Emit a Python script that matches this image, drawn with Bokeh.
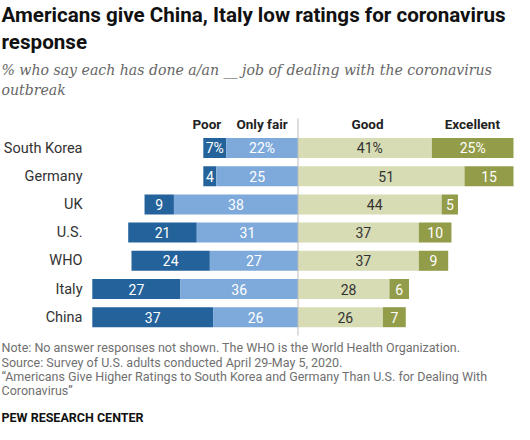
from bokeh.plotting import figure
from bokeh.models import Range1d, Label, ColumnDataSource
from bokeh.core.properties import value
from bokeh.embed import file_html
from bokeh.resources import INLINE

# ---- data ----
categories = ["South Korea", "Germany", "UK", "U.S.", "WHO", "Italy", "China"]
poor = [7, 4, 9, 21, 24, 27, 37]
only_fair = [22, 25, 38, 31, 27, 36, 26]
good = [41, 51, 44, 37, 37, 28, 26]
excellent = [25, 15, 5, 10, 9, 6, 7]
headers = ["Poor", "Only fair", "Good", "Excellent"]

title_lines = ["Americans give China, Italy low ratings for coronavirus", "response"]
subtitle_lines = ["% who say each has done a/an __ job of dealing with the coronavirus", "outbreak"]
note_lines = [
    "Note: No answer responses not shown. The WHO is the World Health Organization.",
    "Source: Survey of U.S. adults conducted April 29-May 5, 2020.",
    "\u201cAmericans Give Higher Ratings to South Korea and Germany Than U.S. for Dealing With",
    "Coronavirus\u201d",
]
credit = "PEW RESEARCH CENTER"

C_POOR = "#23629a"
C_FAIR = "#7eaadb"
C_GOOD = "#d7dcb4"
C_EXC = "#939c48"

W, H = 514, 424
PX_PER_UNIT = 3.265
ROW_PX = 28.2
ZERO_X = 297.5       # canvas px of the divider
FIRST_ROW_Y = 147.5  # canvas px (from top) of first row center

x0 = -ZERO_X / PX_PER_UNIT
x1 = (W - ZERO_X) / PX_PER_UNIT
ytop = -FIRST_ROW_Y / ROW_PX
ybot = ytop + H / ROW_PX

p = figure(width=W, height=H, output_backend="svg", toolbar_location=None,
           x_range=Range1d(x0, x1), y_range=Range1d(ybot, ytop),
           min_border=0, min_border_left=0, min_border_right=0,
           min_border_top=0, min_border_bottom=0)
p.axis.visible = False
p.grid.visible = False
p.outline_line_color = None
p.background_fill_color = "white"
p.border_fill_color = "white"

rows = list(range(len(categories)))
n = len(categories)
src = ColumnDataSource(dict(
    y=rows,
    poor_l=[-(a + b) for a, b in zip(poor, only_fair)],
    poor_r=[-b for b in only_fair],
    fair_l=[-b for b in only_fair],
    zero=[0] * n,
    good_r=good,
    exc_r=[g + e for g, e in zip(good, excellent)],
))
BH = 20 / ROW_PX
p.hbar(y="y", left="poor_l", right="poor_r", height=BH, source=src, fill_color=C_POOR, line_color=None)
p.hbar(y="y", left="fair_l", right="zero", height=BH, source=src, fill_color=C_FAIR, line_color=None)
p.hbar(y="y", left="zero", right="good_r", height=BH, source=src, fill_color=C_GOOD, line_color=None)
p.hbar(y="y", left="good_r", right="exc_r", height=BH, source=src, fill_color=C_EXC, line_color=None)

# divider
p.segment(x0=[0], y0=[ytop + 118 / ROW_PX], x1=[0], y1=[ytop + 335 / ROW_PX],
          line_color="#bdbdbd", line_width=1)

def fmt(v, i):
    return f"{v}%" if i == 0 else str(v)

FONT = "Roboto"
lab = dict(x=[], y=[], t=[], c=[])
for i in rows:
    pl = -(poor[i] + only_fair[i]); pr = -only_fair[i]
    lab["x"].append((pl + pr) / 2); lab["y"].append(i); lab["t"].append(fmt(poor[i], i)); lab["c"].append("white")
    lab["x"].append(-only_fair[i] / 2); lab["y"].append(i); lab["t"].append(fmt(only_fair[i], i)); lab["c"].append("white")
    lab["x"].append(good[i] / 2 + 1.5); lab["y"].append(i); lab["t"].append(fmt(good[i], i)); lab["c"].append("#333333")
    lab["x"].append(good[i] + excellent[i] / 2); lab["y"].append(i); lab["t"].append(fmt(excellent[i], i)); lab["c"].append("white")
p.text(x="x", y="y", text="t", text_color="c", source=ColumnDataSource(lab),
       text_font=value(FONT), text_font_size="14px", text_align="center", text_baseline="middle")

# category labels
p.text(x=[-66.0] * n, y=rows, text=categories, text_font=value(FONT), text_font_size="14.5px",
       text_color="#333333", text_align="right", text_baseline="middle")

# headers
hx = [-27.9, -11.0, 21.3, 53.4]
p.text(x=hx, y=[ytop + 123 / ROW_PX] * 4, text=headers, text_font=value(FONT), text_font_size="13.5px",
       text_font_style="bold", text_color="#222222", text_align="center", text_baseline="middle")

def put(txt, x, ytop_px, size, color, style="normal", font=FONT):
    p.add_layout(Label(x=x, y=H - ytop_px, x_units="screen", y_units="screen", text=txt,
                       text_font=font, text_font_size=size, text_color=color,
                       text_font_style=style, text_baseline="middle", text_align="left"))

for txt, yy in zip(title_lines, [14.5, 41]):
    put(txt, 1, yy, "20.6px", "#111111", "bold")
for txt, yy in zip(subtitle_lines, [69.5, 89]):
    put(txt, 1, yy, "14.1px", "#666666", "italic", "DejaVu Serif")
for txt, yy in zip(note_lines, [347, 362, 376, 389.5]):
    put(txt, 1, yy, "12.5px", "#707070")
put(credit, 1, 417, "12.5px", "#111111", "bold")

open("out.html", "w").write(file_html(p, INLINE))
